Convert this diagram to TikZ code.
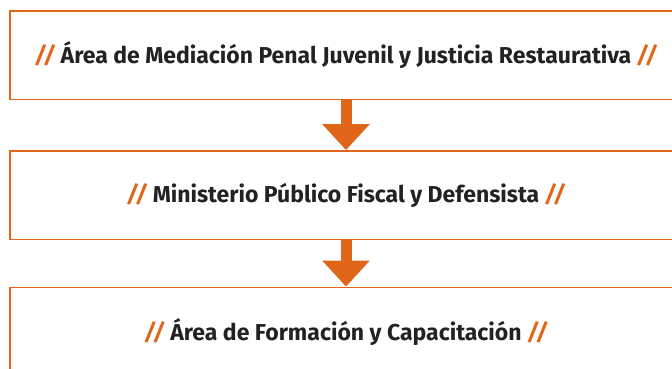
\documentclass[tikz,border=0pt]{standalone}
\usepackage{fontspec}
\setmainfont{Fira Sans}
\usetikzlibrary{arrows.meta}
\definecolor{orng}{HTML}{E0661A}
\definecolor{txt}{HTML}{222222}
\newcommand{\slsh}{{\color{orng}\itshape //}}
\begin{document}
\begin{tikzpicture}[x=1pt,y=-1pt,
  box/.style={draw=orng, line width=1.8pt, minimum width=672pt, minimum height=88.5pt,
    inner sep=0pt, text=txt, font=\fontsize{23}{26}\selectfont\bfseries},
  flow/.style={draw=orng, line width=11pt, -{Triangle[width=46pt,length=26pt]}}]
\useasboundingbox (0,0) rectangle (672,369);
\clip (0,0) rectangle (672,369);
\node[box] (b1) at (346,55.25) {\slsh\ Área de Mediación Penal Juvenil y Justicia Restaurativa \slsh};
\node[box] (b2) at (346,195.25) {\slsh\ Ministerio Público Fiscal y Defensista \slsh};
\node[box] (b3) at (346,331.75) {\slsh\ Área de Formación y Capacitación \slsh};
\draw[flow] (b1.south) -- (b2.north);
\draw[flow] (b2.south) -- (b3.north);
\end{tikzpicture}
\end{document}
